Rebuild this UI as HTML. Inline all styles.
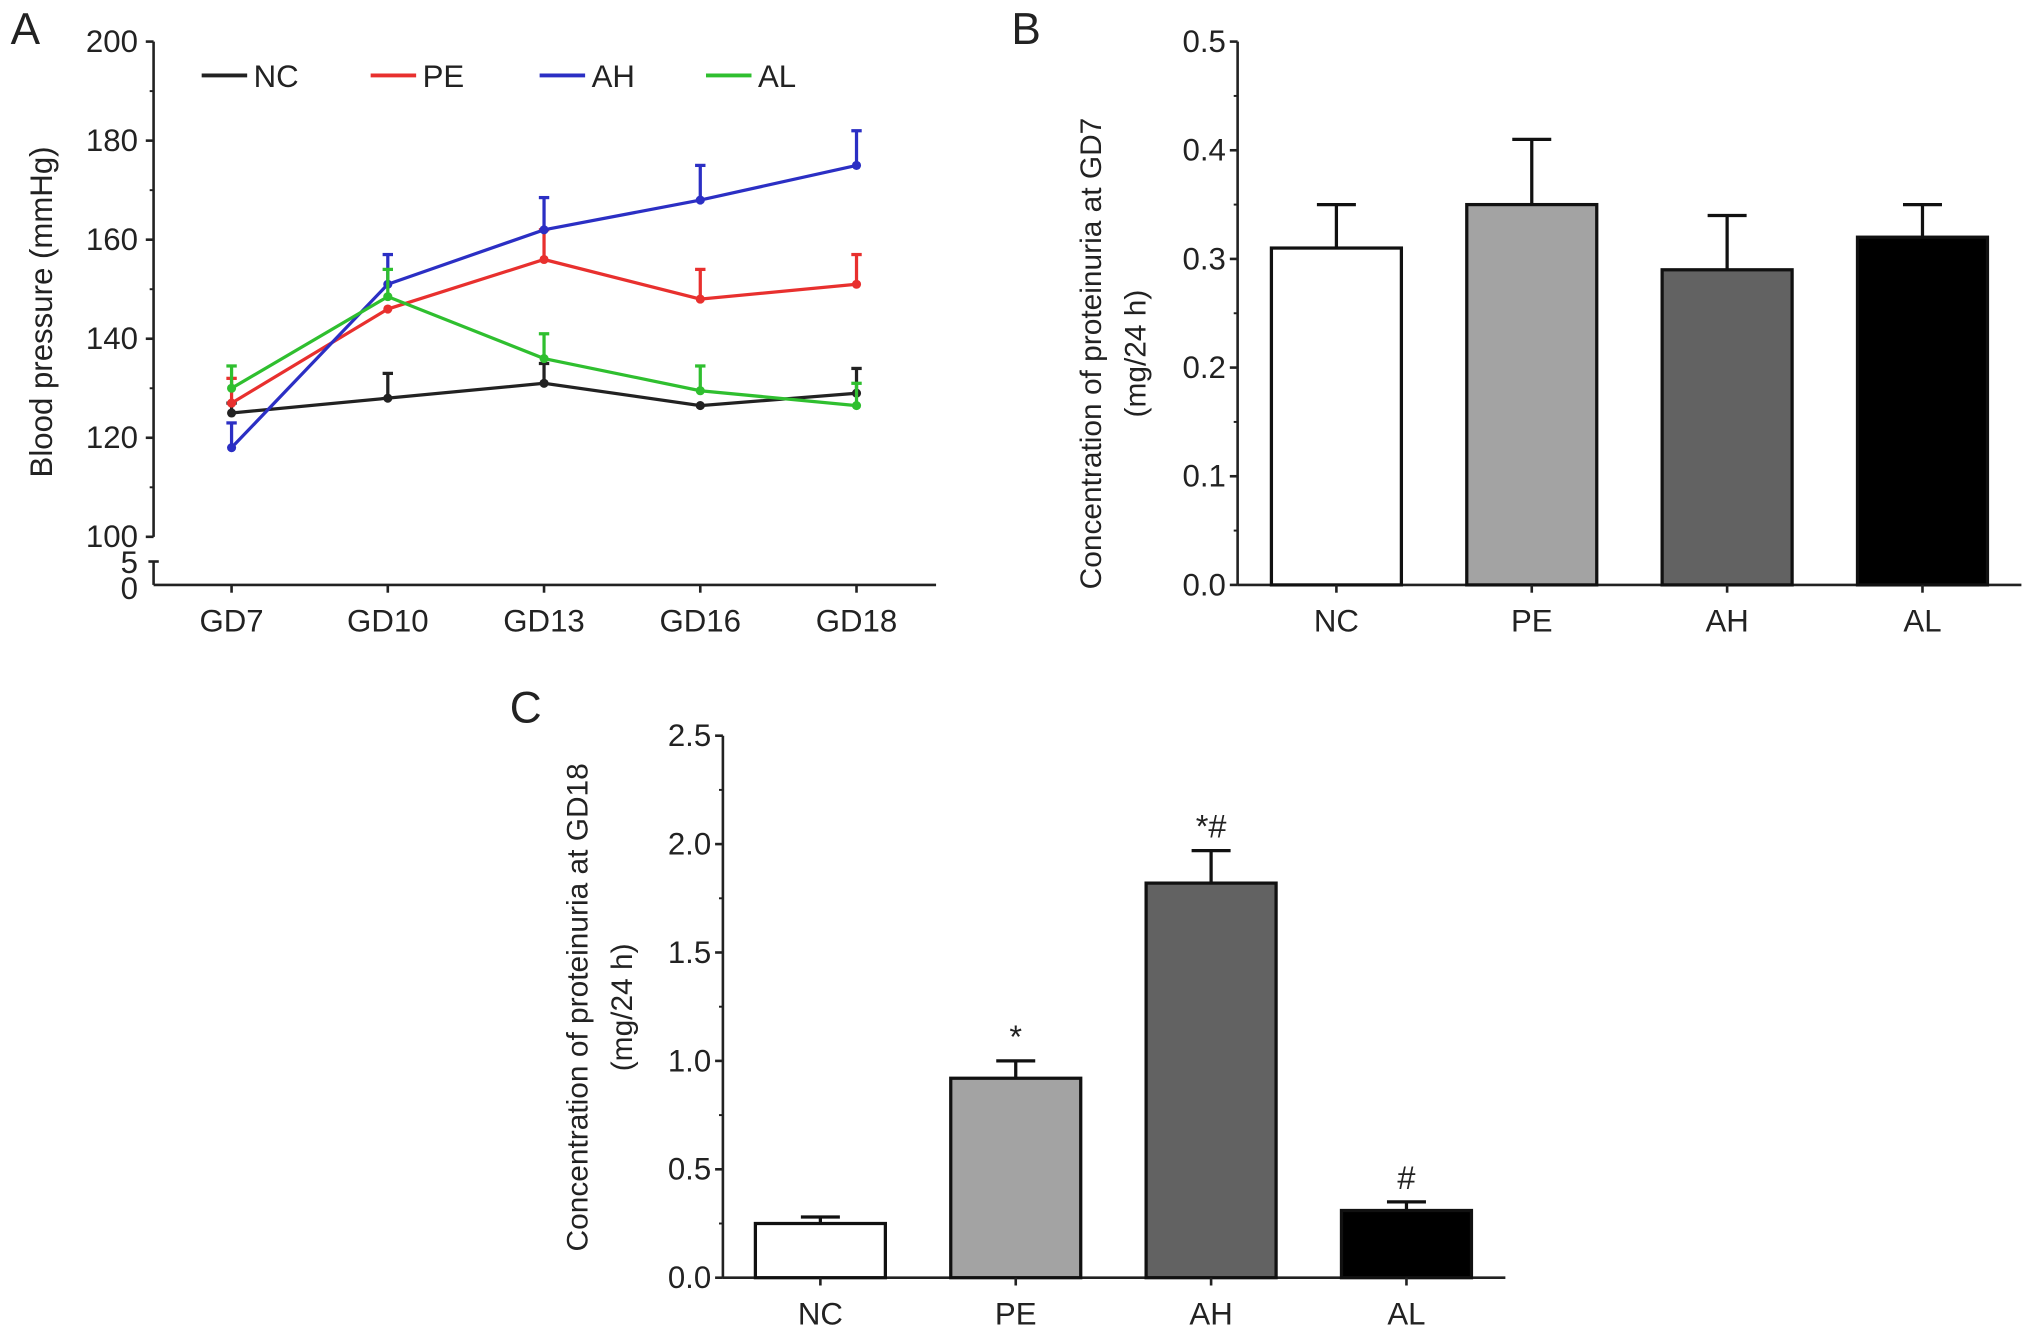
<!DOCTYPE html>
<html><head><meta charset="utf-8"><style>
html,body{margin:0;padding:0;background:#fff}
svg{display:block}
text{font-family:"Liberation Sans",sans-serif;fill:#222}
</style></head><body>
<svg id="fig" width="2032" height="1331" viewBox="0 0 1563 1024" xmlns="http://www.w3.org/2000/svg">
<text x="8" y="34" font-size="34">A</text>
<text x="778" y="34" font-size="34">B</text>
<text x="392" y="556" font-size="34">C</text>
<g id="pa"></g>
<g id="pb"></g>
<g id="pc"></g>
</svg>
<script>
const NS="http://www.w3.org/2000/svg";
// Panel A data
const aCategories=["GD7","GD10","GD13","GD16","GD18"];
const aSeriesNames=["NC","PE","AH","AL"];
const ncValues=[125,128,131,126.5,129];
const ncErr=[2,5,4,0,5];
const peValues=[127,146,156,148,151];
const peErr=[5,0,6,6,6];
const ahValues=[118,151,162,168,175];
const ahErr=[5,6,6.5,7,7];
const alValues=[130,148.5,136,129.5,126.5];
const alErr=[4.5,5.5,5,5,4.5];
const aTicks=[100,120,140,160,180,200];
// Panel B data
const bCategories=["NC","PE","AH","AL"];
const bValues=[0.31,0.35,0.29,0.32];
const bErr=[0.04,0.06,0.05,0.03];
const bTicks=["0.0","0.1","0.2","0.3","0.4","0.5"];
// Panel C data
const cCategories=["NC","PE","AH","AL"];
const cValues=[0.25,0.92,1.82,0.31];
const cErr=[0.03,0.08,0.15,0.04];
const cTicks=["0.0","0.5","1.0","1.5","2.0","2.5"];
const cMarks=["","*","*#","#"];

function el(p,tag,attrs,txt){const e=document.createElementNS(NS,tag);for(const k in attrs)e.setAttribute(k,attrs[k]);if(txt!==undefined)e.textContent=txt;p.appendChild(e);return e;}

// ---- Panel A
const pa=document.getElementById('pa');
const ax0=118, axY0=413, axYPer=(413-32)/100;
const yA=v=>axY0-(v-100)*axYPer;
const xA=i=>178+i*120.2;
el(pa,'line',{x1:ax0,y1:32,x2:ax0,y2:413,stroke:'#222','stroke-width':2});
el(pa,'line',{x1:ax0,y1:432,x2:ax0,y2:450,stroke:'#222','stroke-width':2});
el(pa,'line',{x1:ax0,y1:450,x2:720,y2:450,stroke:'#222','stroke-width':2});
el(pa,'line',{x1:ax0-4,y1:432,x2:ax0+4,y2:432,stroke:'#222','stroke-width':2});
aTicks.forEach(t=>{
 el(pa,'line',{x1:ax0-6,y1:yA(t),x2:ax0,y2:yA(t),stroke:'#222','stroke-width':2});
 const tx=el(pa,'text',{x:ax0-12,y:yA(t)+8,'font-size':24,'text-anchor':'end'},t);
 
 
 if(t<200){el(pa,'line',{x1:ax0-3,y1:yA(t+10),x2:ax0,y2:yA(t+10),stroke:'#222','stroke-width':1.5});}
});
el(pa,'text',{x:ax0-12,y:441,'font-size':24,'text-anchor':'end'},'5');
el(pa,'text',{x:ax0-12,y:461,'font-size':24,'text-anchor':'end'},'0');
aCategories.forEach((c,i)=>{
 el(pa,'line',{x1:xA(i),y1:450,x2:xA(i),y2:456,stroke:'#222','stroke-width':2});
 const tx=el(pa,'text',{x:xA(i),y:486,'font-size':24,'text-anchor':'middle'},c);
 
 
});
const yt=el(pa,'text',{transform:'translate(40,240) rotate(-90)','font-size':24,'text-anchor':'middle'},'Blood pressure (mmHg)');


const series=[[ncValues,ncErr,'#222'],[peValues,peErr,'#e8302e'],[ahValues,ahErr,'#2b2fc4'],[alValues,alErr,'#2fbf2f']];
series.forEach((s,si)=>{
 const g=el(pa,'g',{});
 
 
 const [vals,errs,col]=s;
 el(g,'polyline',{points:vals.map((v,i)=>xA(i)+','+yA(v)).join(' '),fill:'none',stroke:col,'stroke-width':2.5});
 vals.forEach((v,i)=>{
  if(errs[i]>0){el(g,'line',{x1:xA(i),y1:yA(v),x2:xA(i),y2:yA(v+errs[i]),stroke:col,'stroke-width':2.5});
  el(g,'line',{x1:xA(i)-4,y1:yA(v+errs[i]),x2:xA(i)+4,y2:yA(v+errs[i]),stroke:col,'stroke-width':2.5});}
  const p=el(g,'circle',{cx:xA(i),cy:yA(v),r:3.5,fill:col});
  
  
 });
 const lx=[155,285,415,543][si];
 const lg=el(pa,'g',{});
 
 
 el(lg,'line',{x1:lx,y1:58,x2:lx+35,y2:58,stroke:col,'stroke-width':3});
 el(lg,'text',{x:lx+40,y:67,'font-size':24},aSeriesNames[si]);
});

// ---- Bar chart helper
function bars(g,axX,y0,yTop,maxV,xEnd,firstBar,cats,vals,errs,ticks,titleX,titleY,title2,marks){
 const per=(y0-yTop)/maxV;
 const y=v=>y0-v*per;
 const fills=['#fff','#a3a3a3','#626262','#000'];
 el(g,'line',{x1:axX,y1:yTop,x2:axX,y2:y0,stroke:'#222','stroke-width':2});
 el(g,'line',{x1:axX,y1:y0,x2:xEnd,y2:y0,stroke:'#222','stroke-width':2});
 ticks.forEach((t,i)=>{
  const v=maxV*i/(ticks.length-1);
  el(g,'line',{x1:axX-6,y1:y(v),x2:axX,y2:y(v),stroke:'#222','stroke-width':2});
  if(i<ticks.length-1){const vm=maxV*(i+0.5)/(ticks.length-1);el(g,'line',{x1:axX-3,y1:y(vm),x2:axX,y2:y(vm),stroke:'#222','stroke-width':1.5});}
  const tx=el(g,'text',{x:axX-9,y:y(v)+8,'font-size':24,'text-anchor':'end'},t);
  
  
 });
 cats.forEach((c,i)=>{
  const bx=firstBar+i*150.3, w=100, cx=bx+w/2;
  const r=el(g,'rect',{x:bx,y:y(vals[i]),width:w,height:y0-y(vals[i]),fill:fills[i],stroke:'#111','stroke-width':2.5});
  
  
  el(g,'line',{x1:cx,y1:y(vals[i]),x2:cx,y2:y(vals[i]+errs[i]),stroke:'#111','stroke-width':2.5});
  el(g,'line',{x1:cx-15,y1:y(vals[i]+errs[i]),x2:cx+15,y2:y(vals[i]+errs[i]),stroke:'#111','stroke-width':2.5});
  el(g,'line',{x1:cx,y1:y0,x2:cx,y2:y0+6,stroke:'#222','stroke-width':2});
  const tx=el(g,'text',{x:cx,y:y0+36,'font-size':24,'text-anchor':'middle'},c);
  
  
  if(marks&&marks[i]){const m=el(g,'text',{x:cx,y:y(vals[i]+errs[i])-10,'font-size':25,'text-anchor':'middle'},marks[i]);
   
   }
 });
 const t=el(g,'text',{transform:`translate(${titleX},${titleY}) rotate(-90)`,'font-size':23,'text-anchor':'middle'},title2[0]);
 
 
 el(g,'text',{transform:`translate(${titleX+34},${titleY}) rotate(-90)`,'font-size':23,'text-anchor':'middle'},title2[1]);
}
bars(document.getElementById('pb'),952,450,32,0.5,1555,978,bCategories,bValues,bErr,bTicks,847,272,['Concentration of proteinuria at GD7','(mg/24 h)']);
bars(document.getElementById('pc'),556,983,566,2.5,1158,581,cCategories,cValues,cErr,cTicks,452,775,['Concentration of proteinuria at GD18','(mg/24 h)'],cMarks);
</script>
</body></html>
